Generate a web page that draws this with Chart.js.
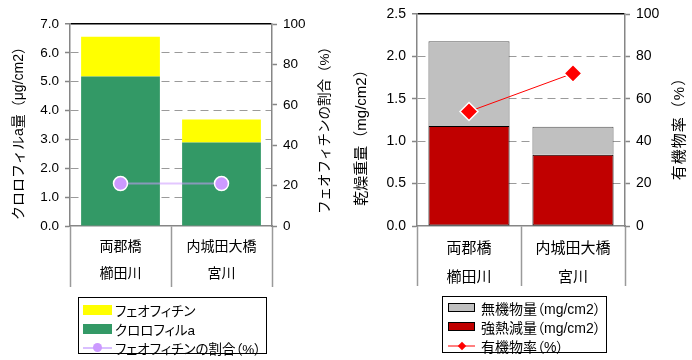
<!DOCTYPE html>
<html lang="ja">
<head>
<meta charset="utf-8">
<title>付着藻類・乾燥重量</title>
<script src="https://cdn.jsdelivr.net/npm/chart.js@4.4.1/dist/chart.umd.min.js"></script>
<style>
  html, body { margin: 0; padding: 0; background: #fff; }
  body {
    width: 692px; height: 360px; position: relative; overflow: hidden;
    font-family: "Liberation Sans", "Noto Sans CJK JP", sans-serif; color: #000;
  }
  .pane { position: absolute; top: 0; width: 346px; height: 360px; }
  #pane-chl { left: 0; }
  #pane-dry { left: 346px; }
  .legend {
    position: absolute; box-sizing: border-box; border: 1px solid #000; background: #fff;
    font-feature-settings: "palt"; white-space: nowrap;
  }
  .legend .row { display: flex; align-items: center; height: 19px; }
  .legend .key { position: relative; flex: none; box-sizing: border-box; }
  .legend .key .dot { position: absolute; left: 50%; top: 50%; }
  #legend-chl { left: 78px; top: 297px; width: 189px; height: 57px; padding: 2px 0 0 4px; font-size: 13.5px; }
  #legend-chl .key { width: 29px; margin-right: 3px; }
  #legend-dry { left: 442px; top: 296px; width: 165px; height: 57px; padding: 1px 0 0 5px; font-size: 14px; }
  #legend-dry .key { width: 27px; margin-right: 6px; }
</style>
</head>
<body>
<div class="pane" id="pane-chl"><canvas id="chart-chl" width="346" height="360"></canvas></div>
<div class="pane" id="pane-dry"><canvas id="chart-dry" width="346" height="360"></canvas></div>
<div class="legend" id="legend-chl"></div>
<div class="legend" id="legend-dry"></div>

<script>
// ── データ ──────────────────────────────
const sites = [['両郡橋', '櫛田川'], ['内城田大橋', '宮川']];

// 左：クロロフィルa・フェオフィチン (μg/cm2)
const chlA = [5.18, 2.89];
const pheophytin = [1.38, 0.80];
const pheoRatio = [21, 21];          // %

// 右：乾燥重量 (mg/cm2)
const ignitionLoss = [1.18, 0.84];
const inorganic = [1.00, 0.33];
const organicRate = [54, 72];       // %

const chlTicks = { max: 7.0, step: 1.0 };
const dryTicks = { max: 2.5, step: 0.5 };
const pctTicks = { max: 100, step: 20 };

const AXIS_GRAY = '#868686';
const GRID_GRAY = '#9a9a9a';
const FONT = '"Liberation Sans", "Noto Sans CJK JP", sans-serif';

Chart.defaults.font.family = FONT;
Chart.defaults.color = '#000';

// 縦軸タイトル（左右とも下から上へ読む向き）
const sideTitles = {
    id: 'sideTitles',
    afterDraw(chart, args, opts) {
        const { ctx } = chart;
        (opts.items || []).forEach(t => {
            ctx.save();
            ctx.translate(t.x, t.y);
            ctx.rotate(-Math.PI / 2);
            ctx.font = t.font;
            if (t.spacing) ctx.letterSpacing = t.spacing;
            ctx.fillStyle = '#000';
            ctx.textAlign = 'center';
            ctx.textBaseline = 'middle';
            ctx.fillText(t.text, 0, 0);
            ctx.restore();
        });
    }
};

// 主軸（左）：破線グリッド、上端は黒の実線
function leftAxis(t, width, size) {
    return {
        position: 'left', stacked: true, min: 0, max: t.max,
        ticks: { stepSize: t.step, padding: 6, font: { size: size }, callback: v => v.toFixed(1) },
        grid: {
            color: c => !c.tick ? GRID_GRAY : c.tick.value === t.max ? '#000' : c.tick.value === 0 ? 'rgba(0,0,0,0)' : GRID_GRAY,
            lineWidth: c => c.tick && c.tick.value === t.max ? 1.5 : 1,
            tickColor: AXIS_GRAY, tickLength: 5, tickWidth: 1.5
        },
        border: { color: AXIS_GRAY, width: 1.5, dash: c => c.tick && c.tick.value === t.max ? [] : [8, 5] },
        afterFit: s => { s.width = width; s.paddingTop = 0; s.paddingBottom = 0; }
    };
}

// 第2軸（右）：%
function rightAxis(width, size) {
    return {
        position: 'right', min: 0, max: pctTicks.max,
        ticks: { stepSize: pctTicks.step, padding: 6, font: { size: size } },
        grid: { drawOnChartArea: false, tickColor: AXIS_GRAY, tickLength: 5, tickWidth: 1.5 },
        border: { color: AXIS_GRAY, width: 1.5 },
        afterFit: s => { s.width = width; s.paddingTop = 0; s.paddingBottom = 0; }
    };
}

// 横軸：地点名2段、区切り線は下へ伸ばす
function siteAxis(size, lineHeight, tickLen, pad) {
    return {
        stacked: true,
        grid: { offset: true, drawOnChartArea: false, tickColor: GRID_GRAY, tickLength: tickLen, tickWidth: 1.5 },
        border: { color: AXIS_GRAY, width: 1.5 },
        ticks: { padding: pad, maxRotation: 0, autoSkip: false, font: { size: size, lineHeight: lineHeight } },
        afterFit: s => { s.height = 134; s.paddingLeft = 0; s.paddingRight = 0; }
    };
}

// ── クロロフィルa ───────────────────────
const chartChl = new Chart(document.getElementById('chart-chl'), {
    type: 'bar',
    plugins: [sideTitles],
    data: {
        labels: sites,
        datasets: [
            { label: 'クロロフィルa', data: chlA, backgroundColor: '#339966', yAxisID: 'y', order: 1,
              barPercentage: 0.78, categoryPercentage: 1 },
            { label: 'フェオフィチン', data: pheophytin, backgroundColor: '#FFFF00', yAxisID: 'y', order: 1,
              barPercentage: 0.78, categoryPercentage: 1 },
            { type: 'line', label: 'フェオフィチンの割合（%）', data: pheoRatio, yAxisID: 'y1', order: 0,
              borderColor: 'rgba(204,153,255,0.55)', borderWidth: 2,
              pointRadius: 7, pointBackgroundColor: '#CC99FF', pointBorderColor: '#fff', pointBorderWidth: 1.5 }
        ]
    },
    options: {
        responsive: false, animation: false,
        layout: { padding: { top: 24, left: 0, right: 0, bottom: 0 } },
        plugins: {
            legend: { display: false }, tooltip: { enabled: false },
            sideTitles: { items: [
                { text: 'クロロフィルa量（μg/cm2）', x: 19, y: 130, font: '14px ' + FONT },
                { text: 'フェオフィチンの割合（%）', x: 325, y: 127, font: '13.5px ' + FONT }
            ] }
        },
        scales: {
            x: siteAxis(14, 1.97, 61, -54),
            y: leftAxis(chlTicks, 70, 13.5),
            y1: rightAxis(74, 13.5)
        }
    }
});

// ── 乾燥重量 ───────────────────────────
const chartDry = new Chart(document.getElementById('chart-dry'), {
    type: 'bar',
    plugins: [sideTitles],
    data: {
        labels: sites,
        datasets: [
            { label: '強熱減量（mg/cm2）', data: ignitionLoss, backgroundColor: '#C00000', yAxisID: 'y', order: 1,
              borderColor: '#000', borderWidth: 1, borderSkipped: false, barPercentage: 0.78, categoryPercentage: 1 },
            { label: '無機物量（mg/cm2）', data: inorganic, backgroundColor: '#C0C0C0', yAxisID: 'y', order: 1,
              borderColor: '#555', borderWidth: { top: 1, left: 1, right: 1, bottom: 0 }, borderSkipped: false,
              barPercentage: 0.78, categoryPercentage: 1 },
            { type: 'line', label: '有機物率（%）', data: organicRate, yAxisID: 'y1', order: 0,
              borderColor: '#FF0000', borderWidth: 1,
              pointStyle: 'rectRot', pointRadius: 9, pointBackgroundColor: '#FF0000', pointBorderColor: '#fff', pointBorderWidth: 1.5 }
        ]
    },
    options: {
        responsive: false, animation: false,
        layout: { padding: { top: 14, left: 0, right: 0, bottom: 0 } },
        plugins: {
            legend: { display: false }, tooltip: { enabled: false },
            sideTitles: { items: [
                { text: '乾燥重量（mg/cm2）', x: 16, y: 134, font: '15px ' + FONT },
                { text: '有機物率（%）', x: 334, y: 125, font: '15px ' + FONT, spacing: '1px' }
            ] }
        },
        scales: {
            x: siteAxis(15, 1.9, 60, -51),
            y: leftAxis(dryTicks, 71, 14),
            y1: rightAxis(67, 14)
        }
    }
});

// ── 凡例（HTML） ───────────────────────
function buildLegend(el, chart, order) {
    const ds = chart.data.datasets;
    el.innerHTML = '';
    order.forEach(i => {
        const d = ds[i];
        const row = document.createElement('div');
        row.className = 'row';
        const key = document.createElement('span');
        key.className = 'key';
        if (d.type === 'line') {
            key.style.height = '2px';
            key.style.background = d.legendLine || d.borderColor;
            const dot = document.createElement('span');
            dot.className = 'dot';
            const r = d.legendDot;
            dot.style.width = r + 'px';
            dot.style.height = r + 'px';
            dot.style.margin = (-r / 2) + 'px 0 0 ' + (-r / 2) + 'px';
            dot.style.background = d.pointBackgroundColor;
            if (d.pointStyle === 'rectRot') dot.style.transform = 'rotate(45deg)';
            else dot.style.borderRadius = '50%';
            key.appendChild(dot);
        } else {
            key.style.height = d.borderWidth ? '9px' : '10px';
            key.style.background = d.backgroundColor;
            if (d.borderWidth) key.style.border = '1px solid #000';
        }
        row.appendChild(key);
        const txt = document.createElement('span');
        txt.textContent = d.label;
        row.appendChild(txt);
        el.appendChild(row);
    });
}

chartChl.data.datasets[2].legendDot = 9;
chartChl.data.datasets[2].legendLine = '#D9BFFF';
chartDry.data.datasets[2].legendDot = 6;
chartDry.data.datasets[2].legendLine = '#FF8080';

buildLegend(document.getElementById('legend-chl'), chartChl, [1, 0, 2]);
buildLegend(document.getElementById('legend-dry'), chartDry, [1, 0, 2]);
</script>
</body>
</html>
